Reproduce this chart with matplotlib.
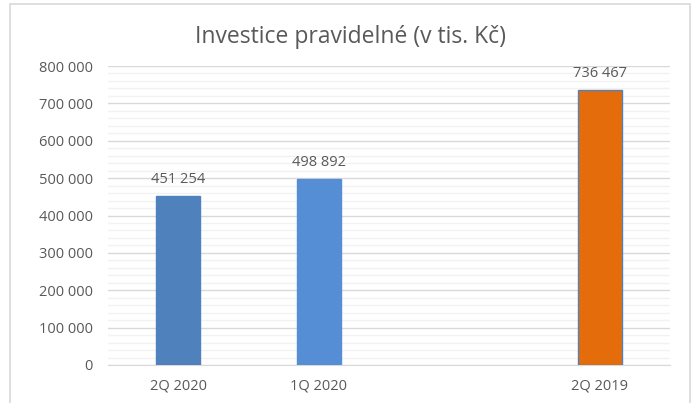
import matplotlib.pyplot as plt
from matplotlib.patches import Rectangle
from matplotlib.ticker import MultipleLocator, FuncFormatter

categories = ["2Q 2020", "1Q 2020", "", "2Q 2019"]
values = [451254, 498892, None, 736467]
colors = ["#4F81BD", "#558ED5", None, "#E46C0A"]
title = "Investice pravidelné (v tis. Kč)"

plt.rcParams['font.family'] = ['Open Sans', 'DejaVu Sans']
grey = "#595959"

def fmt(v, pos=None):
    return "{:,}".format(int(v)).replace(",", " ")

fig = plt.figure(figsize=(6.97, 4.03), dpi=100)
# chart border
fig.patches.append(Rectangle((10/697, -0.01), 680/697, 1 - 4/403 + 0.01,
                             transform=fig.transFigure, fill=False,
                             edgecolor="#D9D9D9", linewidth=1.2))
ax = fig.add_axes([108/697, 1 - 365/403, 562/697, (365 - 66)/403])

x = range(len(categories))
for i, (v, c) in enumerate(zip(values, colors)):
    if v is None:
        continue
    ax.bar(i, v, width=0.31, color=c, zorder=3,
           edgecolor="#4F81BD" if c == "#E46C0A" else c, linewidth=1)
    ax.text(i, v + 24000, fmt(v), ha="center", va="bottom",
            fontsize=10.5, color=grey)

ax.set_xlim(-0.5, len(categories) - 0.5)
ax.set_ylim(0, 800000)
ax.yaxis.set_major_locator(MultipleLocator(100000))
ax.yaxis.set_minor_locator(MultipleLocator(20000))
ax.yaxis.set_major_formatter(FuncFormatter(fmt))
ax.set_xticks(list(x))
ax.set_xticklabels(categories)
ax.grid(axis="y", which="major", color="#D9D9D9", linewidth=1, zorder=0)
ax.grid(axis="y", which="minor", color="#F2F2F2", linewidth=1, zorder=0)
for s in ["top", "right", "left"]:
    ax.spines[s].set_visible(False)
ax.spines["bottom"].set_color("#D9D9D9")
ax.tick_params(axis="both", which="both", length=0, labelsize=10.5, colors=grey)
ax.tick_params(axis="y", pad=11)
ax.tick_params(axis="x", pad=10)

fig.text(350/697, 1 - 37/403, title, ha="center", va="center",
         fontsize=16.5, color=grey)

fig.savefig("out.png", dpi=100)
